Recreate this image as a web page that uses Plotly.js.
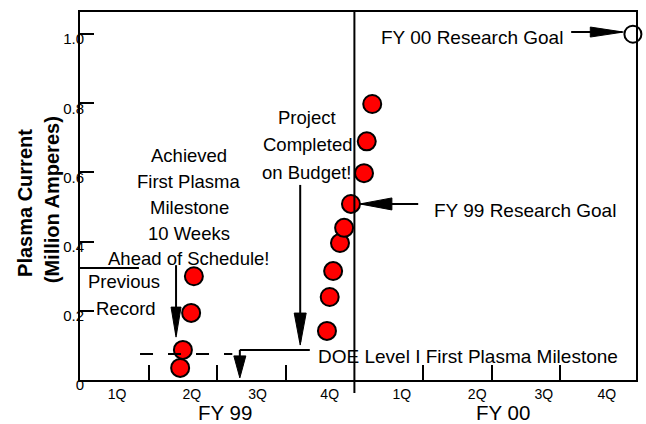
<!DOCTYPE html>
<html>
<head>
<meta charset="utf-8">
<script src="https://cdn.plot.ly/plotly-3.0.1.min.js"></script>
<style>html,body{margin:0;padding:0;background:#fff;}#chart{width:646px;height:424px;}</style>
</head>
<body>
<div id="chart"></div>
<script>
// ---- data ----
const quarterLabels = ['1Q','2Q','3Q','4Q','1Q','2Q','3Q','4Q'];
const quarterLabelPos = [0.54,1.63,2.59,3.64,4.69,5.79,6.76,7.68];
const quarterBounds = [1,2,3,5,6,7];
const fiscalYears = ['FY 99','FY 00'];
const fiscalYearPos = [2.11,6.17];
const yearBoundary = 4;
const shotTime = [1.46,1.50,1.62,1.66,3.60,3.64,3.69,3.79,3.85,3.95,4.14,4.18,4.26];
const shotCurrent = [0.035,0.087,0.194,0.30,0.142,0.24,0.315,0.396,0.44,0.509,0.598,0.69,0.798];
const goalTime = [8.06];
const goalCurrent = [1.0];
const yTickVals = [0,0.2,0.4,0.6,0.8,1.0];
const yTickText = ['0','0.2','0.4','0.6','0.8','1.0'];
const previousRecord = 0.324;
const firstPlasmaLevel = 0.075;
const achievedLines = ['Achieved','First Plasma','Milestone','10 Weeks','Ahead of Schedule!'];
const projectLines = ['Project','Completed','on Budget!'];
const yTitleLines = ['Plasma Current','(Million Amperes)'];

const FONT = 'Arial, "Liberation Sans", sans-serif';
const shapes = [];
const annotations = [];

// year boundary line
shapes.push({type:'line', xref:'x', yref:'paper', x0:yearBoundary, x1:yearBoundary, y0:-0.035, y1:1, line:{color:'black', width:2}});
// previous record line
shapes.push({type:'line', xref:'paper', yref:'y', x0:0, x1:0.106, y0:previousRecord, y1:previousRecord, line:{color:'black', width:2}});
// first plasma dashed level
shapes.push({type:'line', xref:'x', yref:'y', x0:0.875, x1:2.22, y0:firstPlasmaLevel, y1:firstPlasmaLevel, line:{color:'black', width:2, dash:'13px,15px'}});

function line(x0,y0,x1,y1){
  shapes.push({type:'line', xref:'x', yref:'y', x0:x0, y0:y0, x1:x1, y1:y1, line:{color:'black', width:2}});
}
function head(x, y, dir, len, wid){
  const h = wid/2;
  let p;
  if(dir==='right') p = `M0,0 L${-len},${h} L${-len},${-h} Z`;
  else if(dir==='left') p = `M0,0 L${len},${h} L${len},${-h} Z`;
  else p = `M0,0 L${-h},${len} L${h},${len} Z`;
  shapes.push({type:'path', xref:'x', yref:'y', xsizemode:'pixel', ysizemode:'pixel', xanchor:x, yanchor:y,
    path:p, fillcolor:'black', line:{color:'black', width:1}});
}
// arrows
line(7.16,1.006,7.9,1.006); head(7.92,1.006,'right',33,10);
line(4.93,0.509,4.1,0.509); head(4.08,0.509,'left',32,12);
line(1.40,0.332,1.40,0.13); head(1.40,0.124,'down',30,10);
line(3.21,0.564,3.21,0.11); head(3.21,0.101,'down',32,12);
line(3.35,0.087,2.33,0.087); line(2.33,0.087,2.33,0.02); head(2.33,0.006,'down',22,12);

function txt(t,x,y,size,opts){
  annotations.push(Object.assign({text:t, x:x, y:y, xref:'x', yref:'y', showarrow:false,
    font:{family:FONT, size:size, color:'black'}, xanchor:'center', yanchor:'middle'}, opts||{}));
}
achievedLines.forEach((t,i)=>txt(t,1.59,0.650-i*0.075,18.5));
projectLines.forEach((t,i)=>txt(t,3.31,0.760-i*0.080,18.5));
txt('Previous',0.64,0.286,18.5);
txt('Record',0.67,0.208,18.5);
txt('FY 00 Research Goal',5.71,0.991,19);
txt('FY 99 Research Goal',6.49,0.491,19);
txt('DOE Level I First Plasma Milestone',5.66,0.069,19);
fiscalYears.forEach((t,i)=>annotations.push({text:t, x:fiscalYearPos[i], xref:'x', y:-0.088, yref:'paper',
  showarrow:false, font:{family:FONT,size:20.5,color:'black'}, xanchor:'center', yanchor:'middle'}));
const yTitleX = [-0.099,-0.050], yTitleY = [0.481,0.489];
yTitleLines.forEach((t,i)=>annotations.push({text:'<b>'+t+'</b>', textangle:-90, x:yTitleX[i], y:yTitleY[i],
  xref:'paper', yref:'paper', showarrow:false, font:{family:FONT,size:20,color:'black'}, xanchor:'center', yanchor:'middle'}));

const traces = [
  {x:shotTime, y:shotCurrent, type:'scatter', mode:'markers', cliponaxis:false,
   marker:{color:'#ff0000', size:18, line:{color:'black', width:2}}, hoverinfo:'skip'},
  {x:goalTime, y:goalCurrent, type:'scatter', mode:'markers', cliponaxis:false,
   marker:{color:'white', size:17, line:{color:'black', width:2}}, hoverinfo:'skip'},
  {x:[0], y:[0], xaxis:'x2', type:'scatter', mode:'markers', marker:{opacity:0}, hoverinfo:'skip'}
];

const layout = {
  width:646, height:424, showlegend:false,
  margin:{l:80, r:10, t:12, b:44},
  paper_bgcolor:'white', plot_bgcolor:'white',
  font:{family:FONT, color:'black'},
  xaxis:{range:[0,8.105], tickvals:quarterLabelPos, ticktext:quarterLabels, ticks:'', showgrid:false, zeroline:false,
    showline:true, linecolor:'black', linewidth:2, mirror:true, tickfont:{family:FONT, size:14, color:'black'},
    ticklabelstandoff:0},
  xaxis2:{range:[0,8.105], overlaying:'x', anchor:'y', side:'bottom', tickvals:quarterBounds, ticks:'inside', ticklen:15,
    tickwidth:2, tickcolor:'black', showticklabels:false, showgrid:false, zeroline:false, showline:false},
  yaxis:{range:[0,1.064], tickvals:yTickVals, ticktext:yTickText, ticks:'inside', ticklen:14, tickwidth:2, tickcolor:'black',
    showgrid:false, zeroline:false, showline:true, linecolor:'black', linewidth:2, mirror:true,
    tickfont:{family:FONT, size:15, color:'black'}, ticklabelstandoff:-9, ticklabelshift:5},
  shapes:shapes, annotations:annotations
};
Plotly.newPlot('chart', traces, layout, {staticPlot:true, displayModeBar:false});
</script>
</body>
</html>
